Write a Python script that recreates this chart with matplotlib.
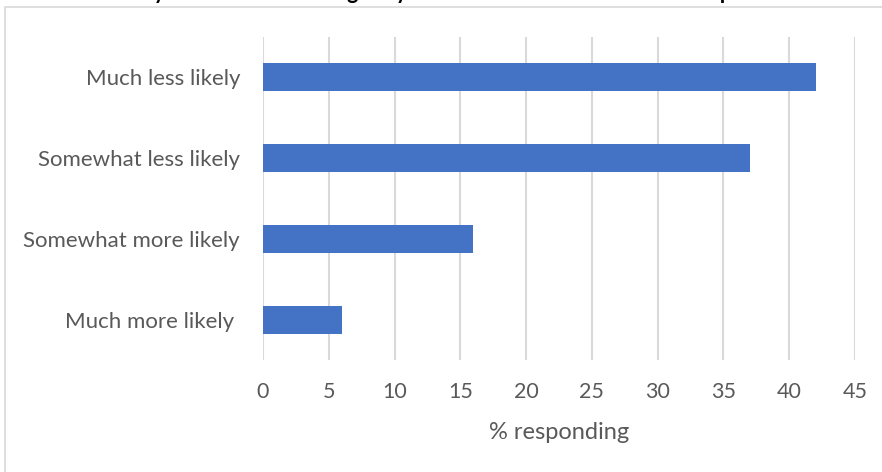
import matplotlib.pyplot as plt
from matplotlib.patches import Rectangle

categories = ['Much more likely ', 'Somewhat more likely', 'Somewhat less likely', 'Much less likely']
values = [6, 16, 37, 42]
xticks = [0, 5, 10, 15, 20, 25, 30, 35, 40, 45]
title = 'How likely to turn out if voting is by mail or online with the same simple rules'

plt.rcParams['font.family'] = ['Lato', 'DejaVu Sans']

fig = plt.figure(figsize=(8.82, 4.72), dpi=100)
ax = fig.add_axes([263 / 882, 1 - 360 / 472, (855 - 263) / 882, (360 - 37) / 472])

# chart area border, cut off at right and bottom like the original
fig.patches.append(Rectangle((5 / 882, -0.1), 1.2, 1 - 7 / 472 + 0.1, transform=fig.transFigure,
                             fill=False, edgecolor='#d9d9d9', linewidth=1.2))

# title sits above the picture, only descenders show
fig.text(0.49, 1 + 1 / 472, title, ha='center', va='baseline', fontsize=15.5,
         fontweight='bold', color='black')

ax.barh(range(len(categories)), values, height=0.345, color='#4472c4', zorder=3)
ax.set_yticks(range(len(categories)))
ax.set_yticklabels(categories)
ax.set_ylim(-0.5, 3.5)
ax.set_xlim(0, 45)
ax.set_xticks(xticks)
ax.grid(axis='x', color='#d9d9d9', linewidth=1.5, zorder=0)
ax.tick_params(length=0, labelcolor='#595959')
ax.tick_params(axis='y', pad=16.5, labelsize=16)
ax.tick_params(axis='x', pad=16, labelsize=15.5)
for s in ax.spines.values():
    s.set_visible(False)
ax.set_xlabel('% responding', fontsize=17, color='#595959', labelpad=14)

plt.savefig('out.png', dpi=100)
